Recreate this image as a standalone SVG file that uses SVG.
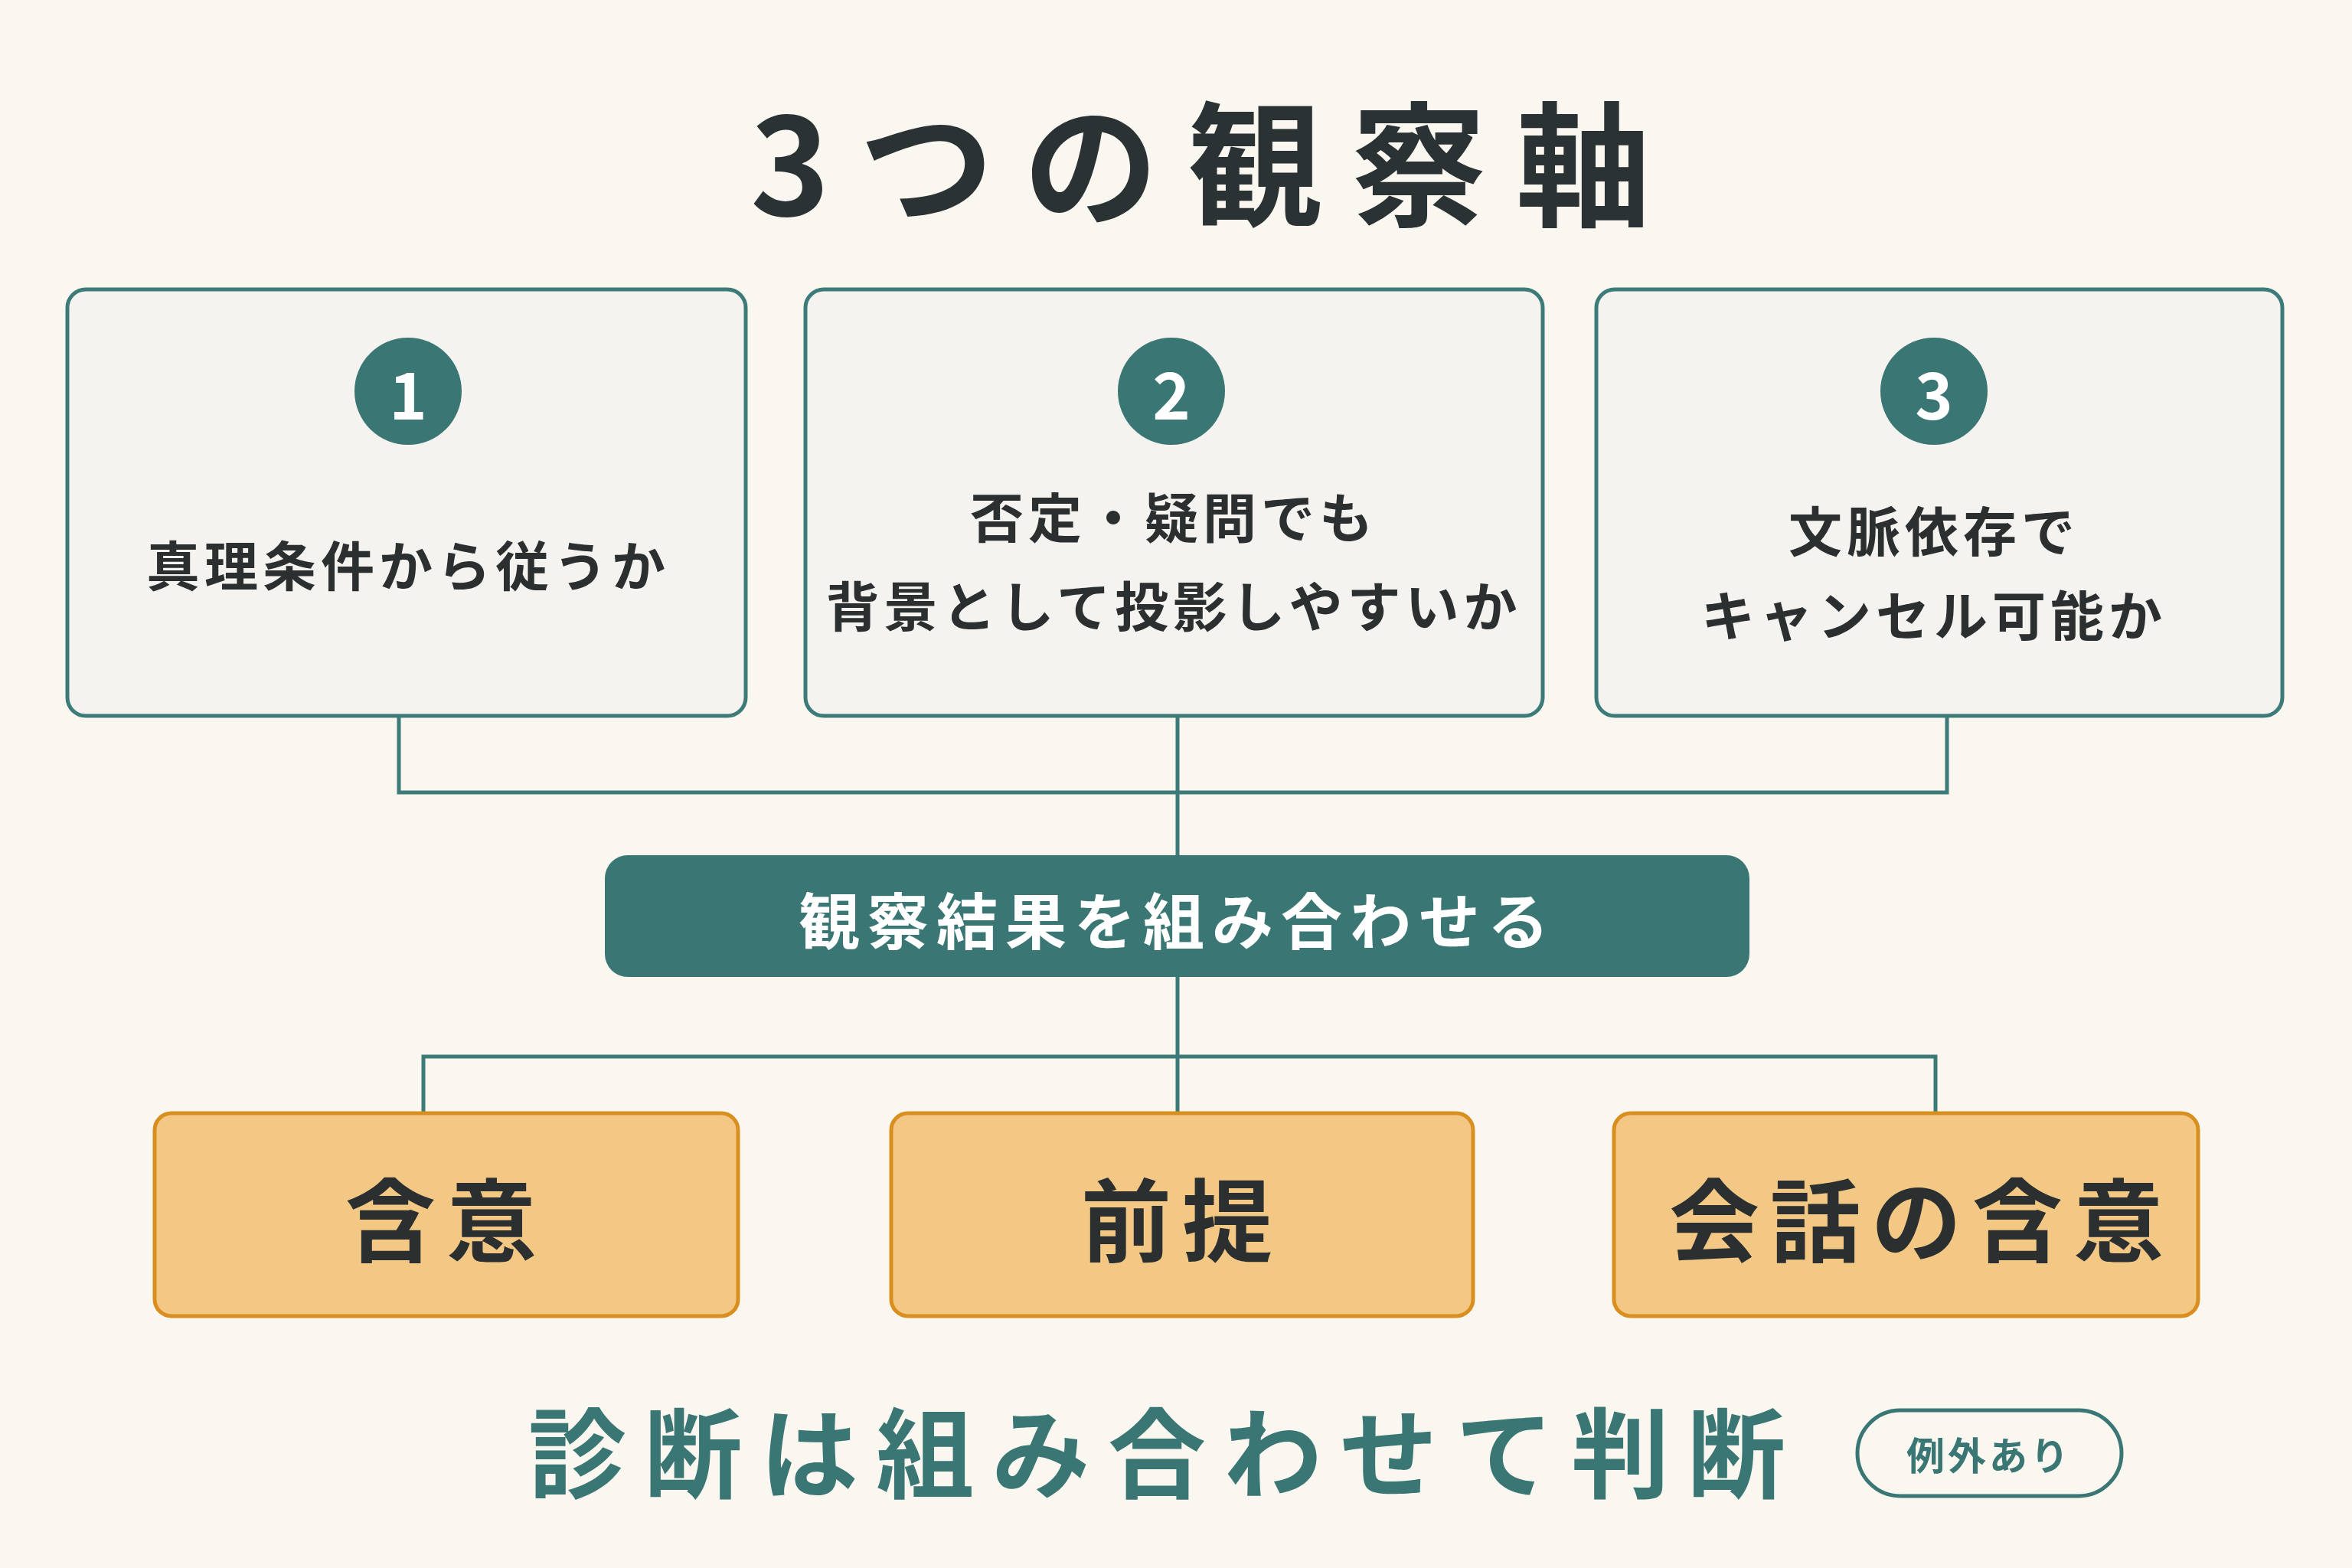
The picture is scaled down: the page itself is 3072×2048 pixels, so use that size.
<svg xmlns="http://www.w3.org/2000/svg" width="3072" height="2048" viewBox="0 0 3072 2048">
<style>
text{font-family:"Noto Sans CJK JP","Noto Sans",sans-serif;font-weight:700}
.card{fill:#f4f3ef;stroke:#3d7b78;stroke-width:5}
.num{fill:#3a7673}
.numt{fill:#fff;font-size:84px;text-anchor:middle;dominant-baseline:central}
.ct{fill:#2b2f30;font-size:70px;text-anchor:middle;dominant-baseline:central;letter-spacing:6px}
.res{fill:#f3c885;stroke:#d98f1f;stroke-width:5}
.rt{fill:#2b2f30;font-size:118px;text-anchor:middle;dominant-baseline:central;letter-spacing:14px}
.ln{fill:none;stroke:#3d7b78;stroke-width:5}
</style>
<rect width="3072" height="2048" fill="#faf6f0"/>
<text x="1568" y="205" textLength="1176" lengthAdjust="spacing" font-size="176" fill="#2b3234" text-anchor="middle" dominant-baseline="central">3つの観察軸</text>
<g id="connectors">
<path class="ln" d="M521 935V1035H2543V935M1538 935V1117M1538 1276V1454M553 1454V1380H2528V1454"/>
</g>
<g id="axis1"><rect class="card" x="88" y="378" width="886" height="557" rx="24"/><circle class="num" cx="533" cy="511" r="70"/><text class="numt" x="533" y="511">1</text><text class="ct" x="533" y="735">真理条件から従うか</text></g>
<g id="axis2"><rect class="card" x="1052" y="378" width="963" height="557" rx="24"/><circle class="num" cx="1530" cy="511" r="70"/><text class="numt" x="1530" y="511">2</text><text class="ct" x="1533" y="672">否定・疑問でも</text><text class="ct" x="1533" y="788">背景として投影しやすいか</text></g>
<g id="axis3"><rect class="card" x="2085" y="378" width="896" height="557" rx="24"/><circle class="num" cx="2526" cy="511" r="70"/><text class="numt" x="2526" y="511">3</text><text class="ct" x="2526" y="690">文脈依存で</text><text class="ct" x="2526" y="800">キャンセル可能か</text></g>
<g id="combine"><rect x="790" y="1117" width="1495" height="159" rx="30" fill="#3a7673"/><text x="1538" y="1198" font-size="80" fill="#fff" text-anchor="middle" dominant-baseline="central" letter-spacing="10">観察結果を組み合わせる</text></g>
<g id="r1"><rect class="res" x="202" y="1454" width="762" height="265" rx="22"/><text class="rt" x="583" y="1587">含意</text></g>
<g id="r2"><rect class="res" x="1164" y="1454" width="760" height="265" rx="22"/><text class="rt" x="1544" y="1587">前提</text></g>
<g id="r3"><rect class="res" x="2108" y="1454" width="763" height="265" rx="22"/><text class="rt" x="2510" y="1587">会話の含意</text></g>
<g id="footer"><text x="1511" y="1891" textLength="1642" lengthAdjust="spacing" font-size="128" fill="#3a7673" text-anchor="middle" dominant-baseline="central">診断は組み合わせて判断</text>
<rect x="2426" y="1842" width="345" height="112" rx="56" fill="none" stroke="#3a7673" stroke-width="5"/><text x="2598" y="1898" font-size="50" fill="#3a7673" text-anchor="middle" dominant-baseline="central" letter-spacing="4">例外あり</text></g>
</svg>
